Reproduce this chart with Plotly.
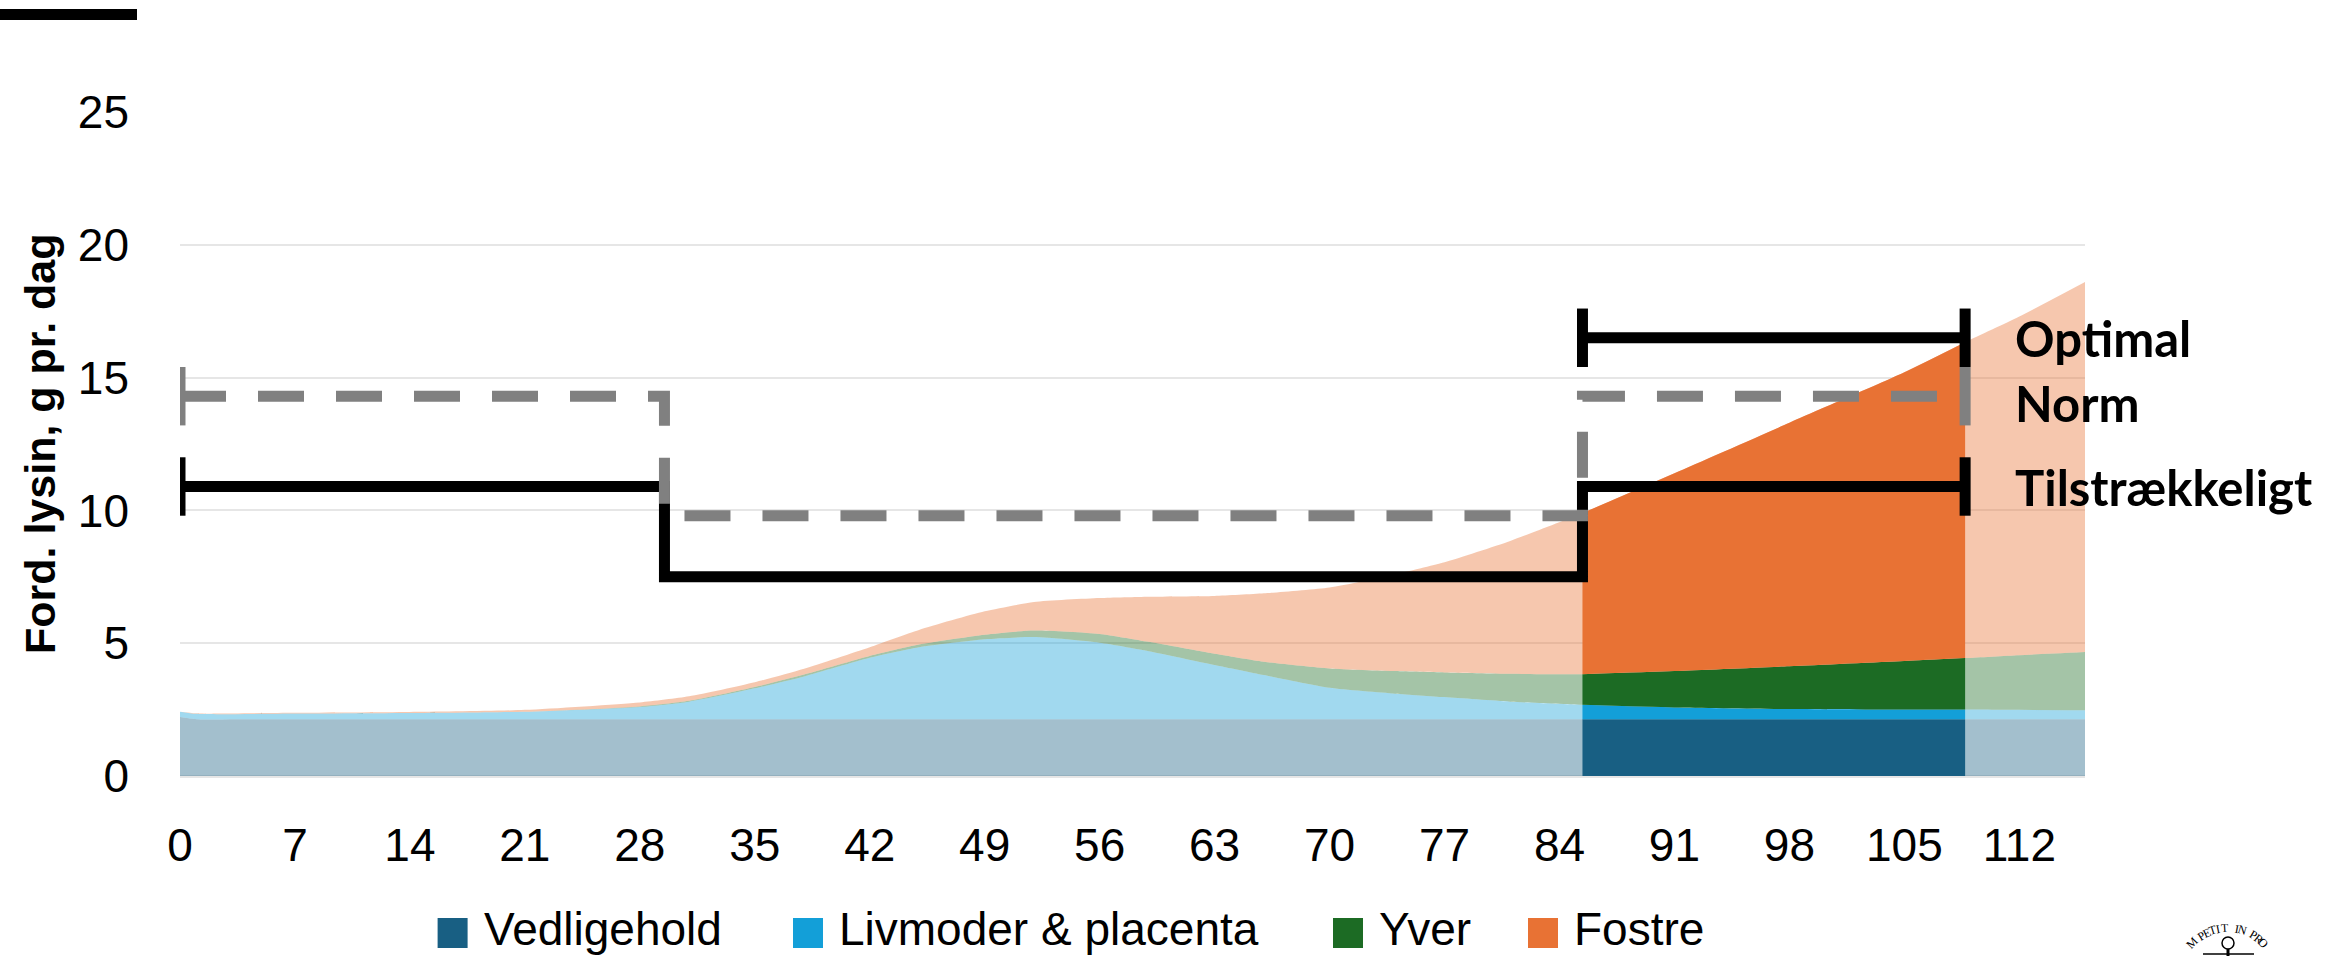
import math
import plotly.graph_objects as go

# ---------------- data ----------------
days = [0, 1, 7, 14, 21, 28, 31, 35, 38, 42, 45, 49, 52, 56, 59, 63, 66, 70, 74, 77,
        81, 85.4, 91, 98, 105, 108.7, 112, 116]
vedligehold = [2.22, 2.14, 2.14, 2.14, 2.14, 2.14, 2.14, 2.14, 2.14, 2.14, 2.14, 2.14, 2.14, 2.14,
               2.14, 2.14, 2.14, 2.14, 2.14, 2.14, 2.14, 2.14, 2.14, 2.14, 2.14, 2.14, 2.14, 2.14]
livmoder = [0.20, 0.20, 0.21, 0.23, 0.28, 0.46, 0.66, 1.16, 1.61, 2.31, 2.71, 3.01, 3.09, 2.88,
            2.56, 2.04, 1.66, 1.18, 0.96, 0.83, 0.66, 0.54, 0.44, 0.38, 0.36, 0.36, 0.35, 0.34]
yver = [0.00, 0.00, 0.00, 0.00, 0.00, 0.02, 0.03, 0.05, 0.07, 0.07, 0.10, 0.17, 0.25, 0.33,
        0.35, 0.42, 0.50, 0.73, 0.85, 0.93, 1.05, 1.15, 1.37, 1.61, 1.83, 1.94, 2.06, 2.19]
fostre = [0.00, 0.02, 0.03, 0.04, 0.07, 0.15, 0.17, 0.18, 0.22, 0.33, 0.55, 0.88, 1.07, 1.35,
          1.70, 2.18, 2.58, 3.05, 3.65, 4.15, 5.00, 6.07, 7.45, 9.17, 10.87, 11.89, 12.75, 13.93]

series_names = ["Vedligehold", "Livmoder & placenta", "Yver", "Fostre"]
series_values = [vedligehold, livmoder, yver, fostre]
series_rgb = [(24, 95, 131), (19, 159, 216), (28, 107, 36), (232, 114, 52)]

highlight_start = 85.4
highlight_end = 108.7

# requirement lines (step lines: x breakpoints, y values)
step_x = [0, 29.5, 85.4, 108.7]
tilstr_y = [10.9, 7.5, 10.9, 10.9]
norm_y = [14.3, 9.8, 14.3, 14.3]
optimal_x = [85.4, 108.7]
optimal_y = [16.5, 16.5]
cap_half = 1.1

x_ticks = [0, 7, 14, 21, 28, 35, 42, 49, 56, 63, 70, 77, 84, 91, 98, 105, 112]
y_ticks = [0, 5, 10, 15, 20, 25]

label_texts = ["Optimal", "Norm", "Tilstrækkeligt"]
label_y = [16.5, 14.05, 10.9]

# ---------------- layout constants ----------------
W, H = 2331, 956
ML, MR, MT, MB = 180, 246, 112, 180
PW, PH = W - ML - MR, H - MT - MB


def px(xp):
    return (xp - ML) / PW


def py(yp):
    return (H - MB - yp) / PH


TICKFONT = "Liberation Sans, Arial, sans-serif"

fig = go.Figure()

# light (whole period) stacked areas
for name, vals, rgb in zip(series_names, series_values, series_rgb):
    fig.add_trace(go.Scatter(
        x=days, y=vals, name=name, stackgroup="light", mode="lines",
        line=dict(width=0, shape="spline", smoothing=0.6),
        fillcolor="rgba(%d,%d,%d,0.4)" % rgb, showlegend=False, hoverinfo="skip"))

# highlighted period in full colour
idx = [i for i, d in enumerate(days) if highlight_start <= d <= highlight_end]
for name, vals, rgb in zip(series_names, series_values, series_rgb):
    fig.add_trace(go.Scatter(
        x=[days[i] for i in idx], y=[vals[i] for i in idx], name=name,
        stackgroup="dark", mode="lines",
        line=dict(width=0, shape="spline", smoothing=0.6),
        fillcolor="rgb(%d,%d,%d)" % rgb, showlegend=False))


def caps(n, first=True, last=True):
    arr = [0] * n
    if first:
        arr[0] = cap_half
    if last:
        arr[-1] = cap_half
    return arr


LW = 11
# Tilstrækkeligt
fig.add_trace(go.Scatter(
    x=step_x, y=tilstr_y, mode="lines", line=dict(color="black", width=LW, shape="hv"),
    error_y=dict(type="data", array=caps(len(step_x)), width=0, thickness=LW, color="black"),
    showlegend=False, name="Tilstrækkeligt"))
# Optimal
fig.add_trace(go.Scatter(
    x=optimal_x, y=optimal_y, mode="lines", line=dict(color="black", width=LW),
    error_y=dict(type="data", array=caps(len(optimal_x)), width=0, thickness=LW, color="black"),
    showlegend=False, name="Optimal"))
# Norm (dashed)
fig.add_trace(go.Scatter(
    x=step_x, y=norm_y, mode="lines",
    line=dict(color="#808080", width=LW, shape="hv", dash="46px,32px"),
    error_y=dict(type="data", array=caps(len(step_x)), width=0, thickness=LW, color="#808080"),
    showlegend=False, name="Norm"))

annotations = []
for t, yv in zip(label_texts, label_y):
    annotations.append(dict(x=111.6, y=yv, xref="x", yref="y", text="<b>%s</b>" % t,
                            showarrow=False, xanchor="left", yanchor="middle",
                            font=dict(family="Lato, Carlito, sans-serif", size=49, color="black")))

# y axis title
annotations.append(dict(x=px(40), y=0.5, xref="paper", yref="paper",
                        text="<b>Ford. lysin, g pr. dag</b>", textangle=-90, showarrow=False,
                        xanchor="center", yanchor="middle",
                        font=dict(family=TICKFONT, size=43, color="black")))

# manual legend
shapes = []
swatch_left = [437.6, 793, 1333, 1528]
for name, rgb, sx in zip(series_names, series_rgb, swatch_left):
    shapes.append(dict(type="rect", xref="paper", yref="paper",
                       x0=px(sx), x1=px(sx + 30), y0=py(948), y1=py(918),
                       fillcolor="rgb(%d,%d,%d)" % rgb, line=dict(width=0)))
    annotations.append(dict(x=px(sx + 44), y=py(929), xref="paper", yref="paper", text=name,
                            showarrow=False, xanchor="left", yanchor="middle",
                            font=dict(family=TICKFONT, size=46, color="black")))

# top-left black bar
shapes.append(dict(type="rect", xref="paper", yref="paper", x0=px(0), x1=px(137),
                   y0=py(20), y1=py(9), fillcolor="black", line=dict(width=0)))

# small seal in the bottom-right corner (only the part visible in the frame)
seal_text = "DUM PETIT IN PROFU"
cx, cy, rad = 2228, 978, 50
for k, ch in enumerate(seal_text):
    ang = -60 + 7.0 * k
    a = math.radians(ang)
    lx = cx + rad * math.sin(a)
    ly = cy - rad * math.cos(a)
    if ly > H - 9 or ch == " ":
        continue
    annotations.append(dict(x=px(lx), y=py(ly), xref="paper", yref="paper", text=ch,
                            showarrow=False, textangle=ang, xanchor="center", yanchor="middle",
                            font=dict(family="Liberation Serif, serif", size=12, color="black")))
shapes.append(dict(type="circle", xref="paper", yref="paper", x0=px(2222), x1=px(2234),
                   y0=py(949), y1=py(937), line=dict(color="black", width=1.5)))
shapes.append(dict(type="line", xref="paper", yref="paper", x0=px(2228), x1=px(2228),
                   y0=py(956), y1=py(949), line=dict(color="black", width=3)))
shapes.append(dict(type="line", xref="paper", yref="paper", x0=px(2203), x1=px(2254),
                   y0=py(954), y1=py(954), line=dict(color="black", width=1.5)))

fig.update_layout(
    width=W, height=H,
    margin=dict(l=ML, r=MR, t=MT, b=MB, pad=0),
    paper_bgcolor="white", plot_bgcolor="white",
    showlegend=False,
    annotations=annotations, shapes=shapes,
    xaxis=dict(range=[0, 116], tickvals=x_ticks, ticktext=[str(v) for v in x_ticks],
               showgrid=False, zeroline=False, showline=False, ticks="",
               ticklabelstandoff=38,
               tickfont=dict(family=TICKFONT, size=46, color="black")),
    yaxis=dict(range=[0, 25], tickvals=y_ticks, ticktext=[str(v) for v in y_ticks],
               showgrid=True, gridcolor="#e6e6e6", gridwidth=2,
               zeroline=True, zerolinecolor="#e6e6e6", zerolinewidth=3,
               showline=False, ticks="", ticklabelstandoff=50,
               tickfont=dict(family=TICKFONT, size=46, color="black")),
)

fig.write_html(
    "out.html",
    config={"displayModeBar": False},
    post_script="document.body.style.margin='0';document.body.style.overflow='hidden';",
)
